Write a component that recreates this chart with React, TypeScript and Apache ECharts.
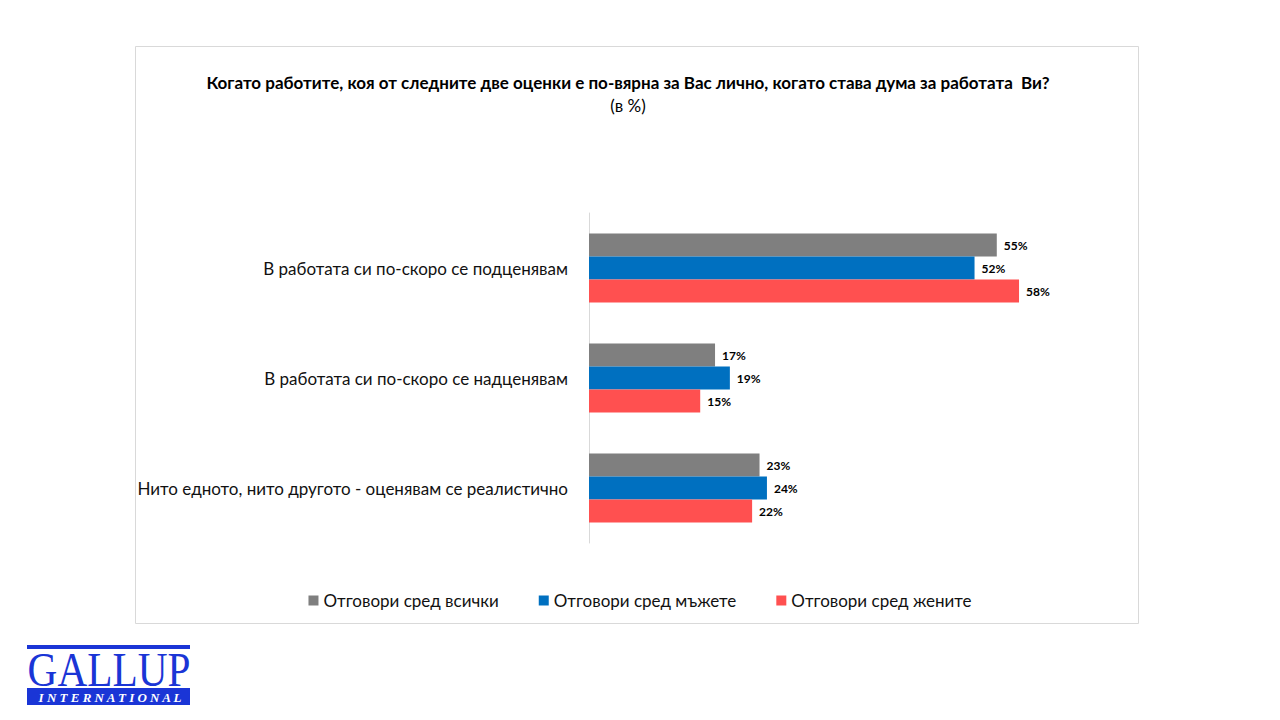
import React, { useEffect, useRef } from "react";
import * as echarts from "echarts";

const categories = [
  "В работата си по-скоро се подценявам",
  "В работата си по-скоро се надценявам",
  "Нито едното, нито другото - оценявам се реалистично",
];
const seriesNames = ["Отговори сред всички", "Отговори сред мъжете", "Отговори сред жените"];
const allValues = [55, 17, 23];
const menValues = [52, 19, 24];
const womenValues = [58, 15, 22];
const colors = ["#7f7f7f", "#0070c0", "#ff5050"];
const titleText = "Когато работите, коя от следните две оценки е по-вярна за Вас лично, когато става дума за работата  Ви?";
const subtitleText = "(в %)";

const FONT = "Lato, 'Noto Sans', sans-serif";
const SERIF = "'Liberation Serif', 'DejaVu Serif', serif";

export default function App() {
  const ref = useRef<HTMLDivElement>(null);
  useEffect(() => {
    if (!ref.current) return;
    const chart = echarts.init(ref.current, undefined, { renderer: "svg" });
    const data = [allValues, menValues, womenValues];
    chart.setOption({
      animation: false,
      backgroundColor: "#ffffff",
      textStyle: { fontFamily: FONT },
      grid: { left: 589, top: 213, width: 519, height: 330, containLabel: false },
      xAxis: { type: "value", min: 0, max: 70, show: false },
      yAxis: {
        type: "category",
        data: categories,
        inverse: true,
        axisLine: { show: true, lineStyle: { color: "#d9d9d9", width: 1 } },
        axisTick: { show: false },
        axisLabel: { fontSize: 17, color: "#111111", margin: 21, fontFamily: FONT },
      },
      legend: {
        data: seriesNames,
        left: "center",
        top: 587,
        itemWidth: 10,
        itemHeight: 10,
        itemGap: 40,
        icon: "rect",
        textStyle: { fontSize: 17, color: "#111111", fontFamily: FONT },
      },
      series: seriesNames.map((name, i) => ({
        name,
        type: "bar",
        data: data[i],
        barWidth: 23,
        barGap: "0%",
        itemStyle: { color: colors[i] },
        label: {
          show: true,
          position: "right",
          distance: 7,
          formatter: "{c}%",
          fontWeight: "bold",
          fontSize: 12,
          color: "#000000",
          fontFamily: FONT,
        },
      })),
      graphic: [
        {
          type: "rect",
          shape: { x: 135.5, y: 46.5, width: 1003, height: 577 },
          style: { fill: "none", stroke: "#d9d9d9", lineWidth: 1 },
          silent: true,
        },
        {
          type: "text",
          x: 628,
          y: 82,
          style: {
            text: titleText,
            fontSize: 17,
            fontWeight: "bold",
            fill: "#000000",
            textAlign: "center",
            textVerticalAlign: "middle",
            fontFamily: FONT,
          },
        },
        {
          type: "text",
          x: 628,
          y: 105,
          style: {
            text: subtitleText,
            fontSize: 17,
            fill: "#000000",
            textAlign: "center",
            textVerticalAlign: "middle",
            fontFamily: FONT,
          },
        },
        {
          type: "rect",
          shape: { x: 27, y: 645, width: 163, height: 4 },
          style: { fill: "#1a35d6" },
        },
        {
          type: "text",
          x: 109,
          y: 670,
          scaleX: 0.86,
          style: {
            text: "GALLUP",
            fontSize: 48,
            fill: "#1a35d6",
            textAlign: "center",
            textVerticalAlign: "middle",
            fontFamily: SERIF,
          },
        },
        {
          type: "rect",
          shape: { x: 27, y: 688, width: 163, height: 17 },
          style: { fill: "#1a35d6" },
        },
        {
          type: "text",
          x: 110,
          y: 697,
          style: {
            text: "I N T E R N A T I O N A L",
            fontSize: 13,
            fontWeight: "bold",
            fontStyle: "italic",
            fill: "#ffffff",
            textAlign: "center",
            textVerticalAlign: "middle",
            fontFamily: SERIF,
          },
        },
      ],
    });
    return () => chart.dispose();
  }, []);
  return (
    <div
      ref={ref}
      style={{ position: "fixed", left: 0, top: 0, width: 1280, height: 720 }}
    />
  );
}
